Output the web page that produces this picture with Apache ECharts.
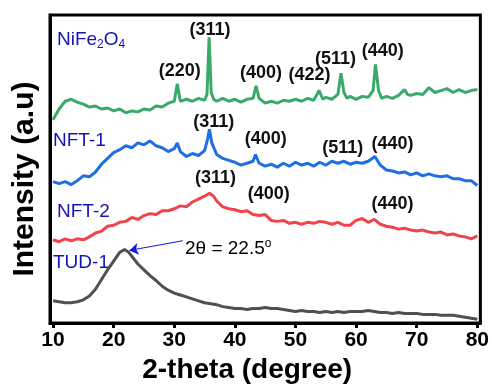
<!DOCTYPE html>
<html>
<head>
<meta charset="utf-8">
<script src="https://cdn.jsdelivr.net/npm/echarts@6/dist/echarts.min.js"></script>
<style>
html,body{margin:0;padding:0;background:#fff;}
#xrd{width:492px;height:389px;}
</style>
</head>
<body>
<div id="xrd"></div>
<script>
// 2-theta ticks
var thetaTicks = [10, 20, 30, 40, 50, 60, 70, 80];

// stacked XRD patterns, [2theta, intensity offset]
var nife2o4 = [[10,210],[11,221],[12,229],[13,231],[14,228],[15,226],[16,223],[17,224],[18,221],[19,222],[20,219],
  [21,221],[22,217],[23,219],[24,218],[25,221],[26,220],[27,224],[28,223],[29,227],[30,229],[30.5,247],[31,229],
  [32,231],[33,229],[34,232],[35,230],[35.4,236],[35.75,295],[36.1,238],[36.5,231],[37,229],[38,232],[39,229],
  [40,231],[41,228],[42,231],[43,232],[43.5,245],[44,232],[45,227],[46,229],[47,227],[48,230],[49,229],[50,231],
  [51,229],[52,232],[53,230],[53.9,240],[54.5,231],[55,233],[56,231],[57,236],[57.5,258],[58,238],[58.5,232],
  [59,234],[60,231],[61,234],[62,233],[62.8,240],[63.2,267],[63.7,240],[64.2,232],[65,234],[66,232],[67,235],
  [68,241],[68.5,236],[69,235],[70,237],[71,236],[72,243],[73,238],[74,240],[75,242],[76,238],[77,241],[78,238],
  [79,240],[80,241]];
var nft1 = [[10,146],[11,144],[12,146],[13,143],[14,147],[15,152],[16,151],[17,156],[18,164],[19,170],[20,176],
  [21,179],[22,183],[23,181],[24,186],[25,184],[26,188],[27,183],[28,181],[29,177],[30,180],[30.5,186],[31,177],
  [32,172],[33,175],[34,173],[35,178],[35.5,190],[35.8,200],[36.2,186],[37,174],[38,170],[39,168],[40,166],
  [41,163],[42,165],[43,167],[43.4,174],[44,165],[45,162],[46,164],[47,161],[48,165],[49,162],[50,166],[51,163],
  [52,165],[53,162],[54,166],[55,163],[56,167],[57,165],[58,167],[59,164],[60,166],[61,165],[62,167],[63.1,172],
  [64,163],[65,158],[66,157],[67,155],[68,156],[69,153],[70,155],[71,152],[72,154],[73,152],[74,151],[75,152],
  [76,149],[77,149],[78,147],[79,147],[80,142]];
var nft2 = [[10,86],[11,84],[12,87],[13,85],[14,87],[15,86],[16,89],[17,93],[18,95],[19,100],[20,101],[21,104],
  [22,105],[23,109],[24,107],[25,111],[26,113],[27,112],[28,116],[29,116],[30,118],[31,121],[32,120],[33,125],
  [34,128],[35,131],[35.8,134],[36.5,131],[37,126],[38,120],[39,118],[40,117],[41,115],[42,116],[43,112],[44,111],
  [45,112],[46,106],[47,105],[48,106],[49,103],[50,104],[51,102],[52,104],[53,103],[54,105],[55,104],[56,102],
  [57,104],[58,101],[59,101],[60,106],[61,108],[62,104],[63,107],[64,102],[65,100],[66,99],[67,97],[68,98],
  [69,96],[70,95],[71,96],[72,94],[73,93],[74,94],[75,91],[76,92],[77,90],[78,89],[79,87],[80,90]];
var tud1 = [[10,23],[11,22],[12,21],[13,21],[14,22],[15,24],[16,28],[17,35],[18,45],[19,55],[20,64],[21,73],
  [21.8,76],[22.5,73],[23,69],[24,61],[25,55],[26,49],[27,44],[28,38],[29,34],[30,31],[31,29],[32,27],[33,25],
  [34,23],[35,21],[36,20],[37,19],[38,17],[39,16],[40,15],[41,15],[42,14],[43,15],[44,15],[45,16],[46,15],
  [47,15],[48,14],[49,13],[50,12],[51,13],[52,12],[53,12],[54,11],[55,12],[56,11],[57,12],[58,11],[59,12],
  [60,12],[61,12],[62,13],[63,12],[64,11],[65,11],[66,10],[67,11],[68,10],[69,10],[70,10],[71,9],[72,9],
  [73,9],[74,8],[75,8],[76,8],[77,7],[78,6],[79,5],[80,4]];

// hkl labels, [2theta, height, text]
var nife2o4Hkl = [[35.9,303,'(311)'],[30.9,260,'(220)'],[44.3,258,'(400)'],[52.3,256,'(422)'],[56.6,273,'(511)'],[64.4,281,'(440)']];
var nft1Hkl = [[36.5,208,'(311)'],[45.1,190,'(400)'],[57.8,181,'(511)'],[66,185,'(440)']];
var nft2Hkl = [[36.8,150,'(311)'],[45.6,133,'(400)'],[66,123,'(440)']];

var chart = echarts.init(document.getElementById('xrd'));

function hklMarks(list){
	return {
		symbol: 'circle',
		symbolSize: 0,
		silent: true,
		label: {
			show: true,
			position: 'inside',
			color: '#111',
			fontSize: 18,
			fontWeight: 'bold',
			fontFamily: 'Liberation Sans'
		},
		data: list.map(function(d){
			return {coord: [d[0], d[1]], value: d[2], label: {formatter: d[2]}};
		})
	};
}

function pattern(name, data, color, hkl){
	var s = {
		name: name,
		type: 'line',
		data: data,
		showSymbol: false,
		lineStyle: {color: color, width: 3},
		itemStyle: {color: color}
	};
	if (hkl) s.markPoint = hklMarks(hkl);
	return s;
}

var tudSeries = pattern('TUD-1', tud1, '#505050');
tudSeries.markLine = {
	silent: true,
	symbol: ['none', 'arrow'],
	symbolSize: 9,
	lineStyle: {color: '#1515e6', width: 1, type: 'solid'},
	label: {show: false},
	data: [[{coord: [31.4, 85]}, {coord: [22.6, 75]}]]
};

var nameStyle = {fill: '#1414b4', fontSize: 19, fontFamily: 'Liberation Sans'};
function nameText(txt){
	return Object.assign({text: txt}, nameStyle);
}

var option = {
	animation: false,
	backgroundColor: '#fff',
	grid: {left: 50, right: 11, top: 15, bottom: 56, show: true, borderColor: '#000', borderWidth: 3},
	xAxis: {
		type: 'value',
		min: 9.5,
		max: 80.5,
		name: '2-theta (degree)',
		nameLocation: 'middle',
		nameGap: 28,
		nameTextStyle: {fontSize: 28, fontWeight: 'bold', color: '#000', fontFamily: 'Liberation Sans', padding: [0, 36, 0, 0]},
		axisLine: {lineStyle: {color: '#000', width: 3}},
		axisTick: {show: true, length: 5, lineStyle: {width: 3, color: '#000'}, customValues: thetaTicks},
		axisLabel: {color: '#000', fontSize: 21, fontWeight: 'bold', fontFamily: 'Liberation Sans', margin: 7, customValues: thetaTicks},
		splitLine: {show: false}
	},
	yAxis: {
		type: 'value',
		min: 0,
		max: 318,
		name: 'Intensity (a.u)',
		nameLocation: 'middle',
		nameGap: 10,
		nameTextStyle: {fontSize: 30, fontWeight: 'bold', color: '#000', fontFamily: 'Liberation Sans', padding: [0, 20, 0, 0]},
		axisLine: {show: true, lineStyle: {color: '#000', width: 3}},
		axisTick: {show: false},
		axisLabel: {show: false},
		splitLine: {show: false}
	},
	graphic: [
		{type: 'text', left: 57, top: 30, style: {text: '{a|NiFe}{s|2}{a|O}{s|4}', rich: {
			a: {fontSize: 19, fontFamily: 'Liberation Sans', fill: '#1414b4'},
			s: {fontSize: 12, fontFamily: 'Liberation Sans', fill: '#1414b4', padding: [10, 0, 0, 0]}
		}}},
		{type: 'text', left: 53, top: 131, style: nameText('NFT-1')},
		{type: 'text', left: 57, top: 202, style: nameText('NFT-2')},
		{type: 'text', left: 53, top: 253, style: nameText('TUD-1')},
		{type: 'text', left: 185, top: 238, style: {text: '2θ = 22.5{o|o}', fill: '#000', fontSize: 19, fontFamily: 'Liberation Sans', rich: {
			o: {fontSize: 12, fontFamily: 'Liberation Sans', fill: '#000', padding: [0, 0, 9, 0]}
		}}}
	],
	series: [
		pattern('NiFe2O4', nife2o4, '#3aa96a', nife2o4Hkl),
		pattern('NFT-1', nft1, '#1f6fe2', nft1Hkl),
		pattern('NFT-2', nft2, '#f0444a', nft2Hkl),
		tudSeries
	]
};
chart.setOption(option);
</script>
</body>
</html>
